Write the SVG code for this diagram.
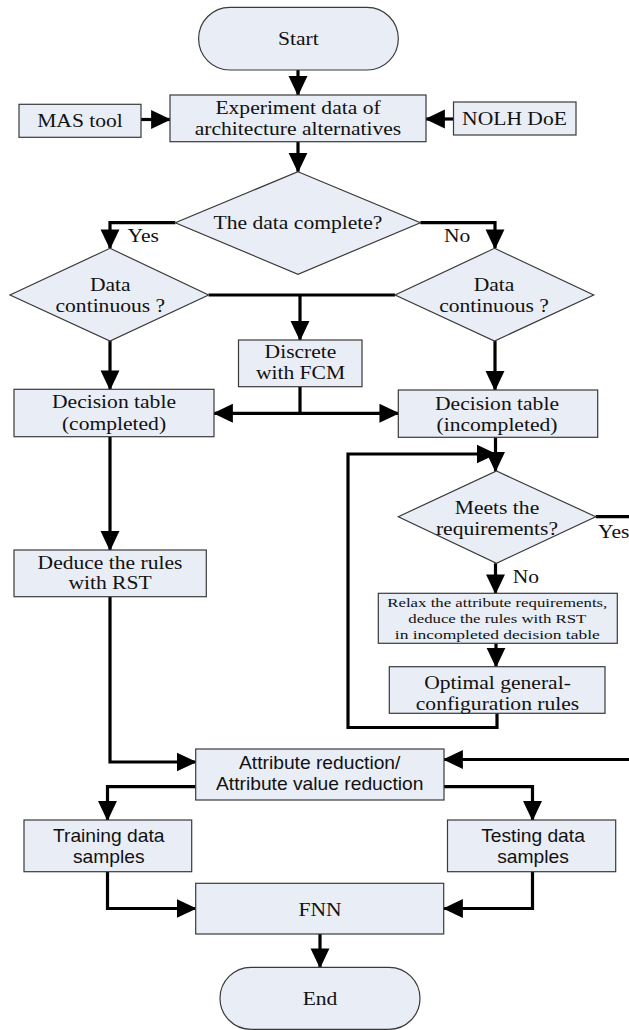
<svg xmlns="http://www.w3.org/2000/svg" width="629" height="1030" viewBox="0 0 629 1030">
<defs>
<marker id="ah" markerUnits="userSpaceOnUse" markerWidth="20" markerHeight="20" viewBox="0 0 18 18" refX="17" refY="9" orient="auto">
<path d="M0,0.5 L18,9 L0,17.5 z" fill="#000"/>
</marker>
<style>
.box{fill:#e9edf6;stroke:#3a3a3a;stroke-width:1.2}
.t{font-family:"Liberation Serif","Times New Roman",serif;font-size:18.6px;fill:#111;text-anchor:middle;dominant-baseline:central}
.s{font-family:"Liberation Sans",Arial,sans-serif;font-size:17.5px;fill:#111;text-anchor:middle;dominant-baseline:central}
.sm{font-size:13.5px}
.lb{text-anchor:start}
.c{fill:none;stroke:#000;stroke-width:3.2}
.ca{fill:none;stroke:#000;stroke-width:3.2;marker-end:url(#ah)}
</style>
</defs>
<g id="connectors">
<path class="ca" d="M298,70 V95"/>
<path class="ca" d="M141,119.5 H170"/>
<path class="ca" d="M453.5,119 H426"/>
<path class="ca" d="M298,141.7 V171.7"/>
<path class="ca" d="M175.3,222.7 H110 V248.3"/>
<path class="ca" d="M420.4,222.7 H495 V248.3"/>
<path class="c" d="M208.6,295 H395.1"/>
<path class="ca" d="M300,295 V340"/>
<path class="ca" d="M110,341 V389.3"/>
<path class="ca" d="M495,341 V390"/>
<path class="ca" d="M300,386.7 V413.3 H214"/>
<path class="ca" d="M300,413.3 H398.3"/>
<path class="ca" d="M110,436.7 V550"/>
<path class="ca" d="M110,596.7 V762 H195.7"/>
<path class="ca" d="M495.5,437.3 V471"/>
<path class="ca" d="M497,713.3 V727.5 H348 V454 H495.5"/>
<path class="ca" d="M595.7,516.7 H640 V759.5 H444"/>
<path class="ca" d="M495.5,563.3 V593.3"/>
<path class="ca" d="M496,643.3 V666.7"/>
<path class="ca" d="M195.7,786.7 H107.5 V820"/>
<path class="ca" d="M444,786.7 H532.5 V820"/>
<path class="ca" d="M107.5,871.7 V908.5 H195.7"/>
<path class="ca" d="M532.5,871.7 V908.5 H444"/>
<path class="ca" d="M320,934 V967.3"/>
</g>
<g id="start"><rect class="box" x="198.6" y="7.3" width="199.7" height="62.7" rx="31.3"/><text class="t" transform="translate(298.4 38.5) scale(1.16 1)">Start</text></g>
<g id="experiment"><rect class="box" x="170" y="95" width="256" height="46.7"/><text class="t" transform="translate(298 107.3) scale(1.16 1)">Experiment data of</text><text class="t" transform="translate(298 128.5) scale(1.16 1)">architecture alternatives</text></g>
<g id="mas"><rect class="box" x="19" y="104.3" width="122" height="33"/><text class="t" transform="translate(80 120.7) scale(1.16 1)">MAS tool</text></g>
<g id="nolh"><rect class="box" x="453.5" y="102" width="122.5" height="33"/><text class="t" transform="translate(514.5 118.3) scale(1.16 1)">NOLH DoE</text></g>
<g id="complete"><polygon class="box" points="298,171.7 420.4,222.7 298,274.3 175.3,222.7"/><text class="t" transform="translate(298 222.7) scale(1.16 1)">The data complete?</text></g>
<text class="t lb" transform="translate(127.5 236) scale(1.16 1)">Yes</text>
<text class="t lb" transform="translate(444 236) scale(1.16 1)">No</text>
<g id="cont-left"><polygon class="box" points="110,248.3 208.6,295 110,341 10,295"/><text class="t" transform="translate(110.3 285) scale(1.16 1)">Data</text><text class="t" transform="translate(110.3 306) scale(1.16 1)">continuous ?</text></g>
<g id="cont-right"><polygon class="box" points="494.5,248.3 593.7,295 494.5,341 395.1,295"/><text class="t" transform="translate(494 285) scale(1.16 1)">Data</text><text class="t" transform="translate(494 306) scale(1.16 1)">continuous ?</text></g>
<g id="discrete"><rect class="box" x="238.5" y="340" width="123.5" height="46.7"/><text class="t" transform="translate(300.5 352) scale(1.16 1)">Discrete</text><text class="t" transform="translate(300.5 373) scale(1.16 1)">with FCM</text></g>
<g id="dt-completed"><rect class="box" x="14" y="389.3" width="200" height="47.4"/><text class="t" transform="translate(114 401.7) scale(1.16 1)">Decision table</text><text class="t" transform="translate(114 423.3) scale(1.16 1)">(completed)</text></g>
<g id="dt-incompleted"><rect class="box" x="398.3" y="390" width="199.4" height="47.3"/><text class="t" transform="translate(497 403.3) scale(1.16 1)">Decision table</text><text class="t" transform="translate(497 424.3) scale(1.16 1)">(incompleted)</text></g>
<g id="meets"><polygon class="box" points="496.5,471 595.7,516.7 496.5,563.3 398.3,516.7"/><text class="t" transform="translate(497 507.7) scale(1.16 1)">Meets the</text><text class="t" transform="translate(497 529) scale(1.16 1)">requirements?</text></g>
<text class="t lb" transform="translate(598 531.7) scale(1.16 1)">Yes</text>
<text class="t lb" transform="translate(512.7 576.7) scale(1.16 1)">No</text>
<g id="relax"><rect class="box" x="378.3" y="593.3" width="239" height="50"/><text class="t sm" x="497.3" y="602.5" textLength="220" lengthAdjust="spacingAndGlyphs">Relax the attribute requirements,</text><text class="t sm" x="497.3" y="618.3" textLength="178" lengthAdjust="spacingAndGlyphs">deduce the rules with RST</text><text class="t sm" x="497.3" y="634.3" textLength="205" lengthAdjust="spacingAndGlyphs">in incompleted decision table</text></g>
<g id="optimal"><rect class="box" x="389.3" y="666.7" width="215.7" height="46.6"/><text class="t" transform="translate(497.5 682.3) scale(1.16 1)">Optimal general-</text><text class="t" transform="translate(497.5 703.5) scale(1.16 1)">configuration rules</text></g>
<g id="deduce"><rect class="box" x="14" y="550" width="192.3" height="46.7"/><text class="t" transform="translate(110 562.3) scale(1.16 1)">Deduce the rules</text><text class="t" transform="translate(110 583) scale(1.16 1)">with RST</text></g>
<g id="attribute"><rect class="box" x="195.7" y="749" width="248.3" height="51"/><text class="s" transform="translate(319.7 763.3) scale(1.1 1)">Attribute reduction/</text><text class="s" transform="translate(319.7 784.3) scale(1.1 1)">Attribute value reduction</text></g>
<g id="training"><rect class="box" x="24" y="820" width="167.7" height="51.7"/><text class="s" transform="translate(108.7 836) scale(1.1 1)">Training data</text><text class="s" transform="translate(108.7 856.7) scale(1.1 1)">samples</text></g>
<g id="testing"><rect class="box" x="447.5" y="820" width="168.2" height="51.7"/><text class="s" transform="translate(533 836) scale(1.1 1)">Testing data</text><text class="s" transform="translate(533 856.7) scale(1.1 1)">samples</text></g>
<g id="fnn"><rect class="box" x="195.7" y="883.3" width="248" height="50.7"/><text class="t" transform="translate(320 910) scale(1.16 1)">FNN</text></g>
<g id="end"><rect class="box" x="220" y="967.3" width="200" height="62" rx="31"/><text class="t" transform="translate(320 999) scale(1.16 1)">End</text></g>
</svg>
